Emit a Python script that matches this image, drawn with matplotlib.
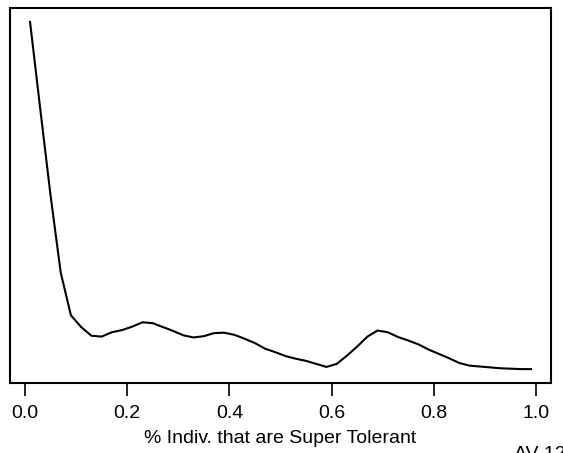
import numpy as np
import matplotlib
matplotlib.use("Agg")
import matplotlib.pyplot as plt

# density estimate of share of super tolerant individuals
x_vals = np.arange(0.01, 1.0, 0.02)
density = [8.33, 6.32, 4.34, 2.55, 1.56, 1.29, 1.09, 1.07, 1.17, 1.22,
           1.30, 1.40, 1.38, 1.29, 1.20, 1.10, 1.05, 1.08, 1.15, 1.16,
           1.11, 1.02, 0.92, 0.79, 0.71, 0.62, 0.56, 0.51, 0.44, 0.37,
           0.44, 0.63, 0.84, 1.07, 1.21, 1.17, 1.06, 0.98, 0.89, 0.77,
           0.67, 0.57, 0.46, 0.40, 0.38, 0.36, 0.34, 0.33, 0.32, 0.32]
x_ticks = [0.0, 0.2, 0.4, 0.6, 0.8, 1.0]
x_ticklabels = ["0.0", "0.2", "0.4", "0.6", "0.8", "1.0"]

plt.rcParams['font.family'] = ['Liberation Sans', 'DejaVu Sans']

W, H = 563, 453
fig = plt.figure(figsize=(W / 100, H / 100), dpi=100)
ax = fig.add_axes([10 / W, (H - 383) / H, 541 / W, 375 / H])

ax.plot(x_vals, density, color="black", lw=1.5)

# R-style 4% axis padding
xr = x_vals[-1] - x_vals[0]
ax.set_xlim(x_vals[0] - 0.04 * xr, x_vals[-1] + 0.04 * xr)
yr = max(density) - min(density)
ax.set_ylim(min(density) - 0.04 * yr, max(density) + 0.04 * yr)

ax.set_xticks(x_ticks)
ax.set_xticklabels(x_ticklabels, fontsize=14)
ax.set_yticks([])
ax.tick_params(axis="x", length=9.5, width=1.2, pad=6)
for s in ax.spines.values():
    s.set_linewidth(1.5)

ax.set_xlabel("% Indiv. that are Super Tolerant", fontsize=14, labelpad=6)

fig.text(514 / W, 1 - 446 / H, "AV 12", fontsize=14, ha="left", va="top")

fig.savefig("out.png", dpi=100)
